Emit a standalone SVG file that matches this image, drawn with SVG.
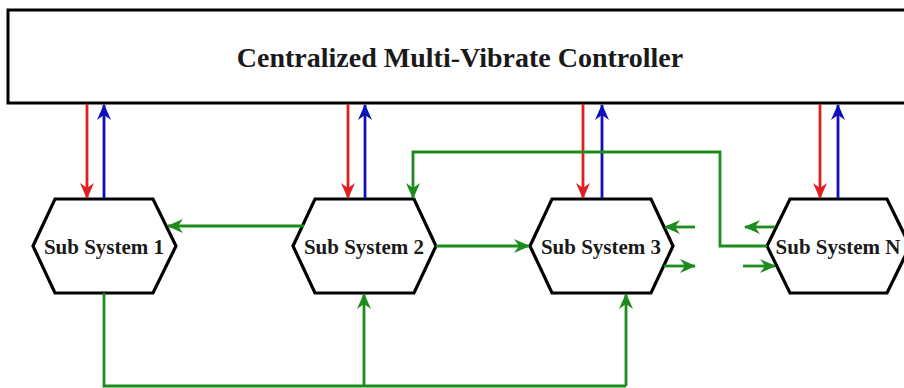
<svg xmlns="http://www.w3.org/2000/svg" width="904" height="388" viewBox="0 0 904 388">
<style>
.box{fill:#fff;stroke:#000;stroke-width:3}
.hex{fill:#fff;stroke:#000;stroke-width:3.2;stroke-linejoin:miter}
.lbl{fill:#1a1a1a;text-anchor:middle}
.r{stroke:#e02020;stroke-width:2.8;fill:none;marker-end:url(#ar)}
.b{stroke:#1010b8;stroke-width:2.8;fill:none;marker-end:url(#ab)}
.g{stroke:#1c8c1c;stroke-width:2.8;fill:none}
.ga{marker-end:url(#ag)}
</style>
<defs>
<marker id="ar" viewBox="0 0 16 16" refX="15" refY="8" markerWidth="16" markerHeight="16" markerUnits="userSpaceOnUse" orient="auto"><path d="M0,1 L16,8 L0,15 L5,8 Z" fill="#e02020"/></marker>
<marker id="ab" viewBox="0 0 16 16" refX="15" refY="8" markerWidth="16" markerHeight="16" markerUnits="userSpaceOnUse" orient="auto"><path d="M0,1 L16,8 L0,15 L5,8 Z" fill="#1010b8"/></marker>
<marker id="ag" viewBox="0 0 16 16" refX="15" refY="8" markerWidth="16" markerHeight="16" markerUnits="userSpaceOnUse" orient="auto"><path d="M0,1 L16,8 L0,15 L5,8 Z" fill="#1c8c1c"/></marker>
</defs>
<g id="controller">
<rect class="box" x="8" y="10" width="910" height="93"/>
<text class="lbl" x="460" y="67" font-size="28" font-family="Liberation Serif, serif" font-weight="bold">Centralized Multi-Vibrate Controller</text>
</g>
<g id="sub1">
<polygon class="hex" points="33,246 55,199 153,199 176,246 153,293 55,293"/>
<text class="lbl" x="104" y="254" font-size="21" font-family="Liberation Serif, serif" font-weight="bold">Sub System 1</text>
</g>
<g id="sub2">
<polygon class="hex" points="293,246 315,199 414,199 436,246 414,293 315,293"/>
<text class="lbl" x="364" y="254" font-size="21" font-family="Liberation Serif, serif" font-weight="bold">Sub System 2</text>
</g>
<g id="sub3">
<polygon class="hex" points="530,246 552,199 651,199 673,246 651,293 552,293"/>
<text class="lbl" x="601" y="254" font-size="21" font-family="Liberation Serif, serif" font-weight="bold">Sub System 3</text>
</g>
<g id="subN">
<polygon class="hex" points="767,246 790,199 887,199 910,246 887,293 790,293"/>
<text class="lbl" x="838" y="254" font-size="21" font-family="Liberation Serif, serif" font-weight="bold">Sub System N</text>
</g>
<g id="connectors">
<line class="r" x1="87" y1="104" x2="87" y2="198"/>
<line class="b" x1="104" y1="198" x2="104" y2="105"/>
<line class="r" x1="348" y1="104" x2="348" y2="198"/>
<line class="b" x1="365" y1="198" x2="365" y2="105"/>
<line class="r" x1="583" y1="104" x2="583" y2="198"/>
<line class="b" x1="602" y1="198" x2="602" y2="105"/>
<line class="r" x1="820" y1="104" x2="820" y2="198"/>
<line class="b" x1="838" y1="198" x2="838" y2="105"/>
<polyline class="g ga" points="767,246 720,246 720,152 413,152 413,198"/>
<line class="g ga" x1="304" y1="226" x2="168" y2="226"/>
<line class="g ga" x1="436" y1="246" x2="529" y2="246"/>
<line class="g ga" x1="695" y1="227" x2="665" y2="227"/>
<line class="g ga" x1="664" y1="266" x2="695" y2="266"/>
<line class="g ga" x1="775" y1="227" x2="745" y2="227"/>
<line class="g ga" x1="743" y1="266" x2="775" y2="266"/>
<polyline class="g" points="104,293 104,386 626,386"/>
<line class="g ga" x1="364" y1="386" x2="364" y2="294"/>
<line class="g ga" x1="626" y1="386" x2="626" y2="294"/>
</g>
</svg>
